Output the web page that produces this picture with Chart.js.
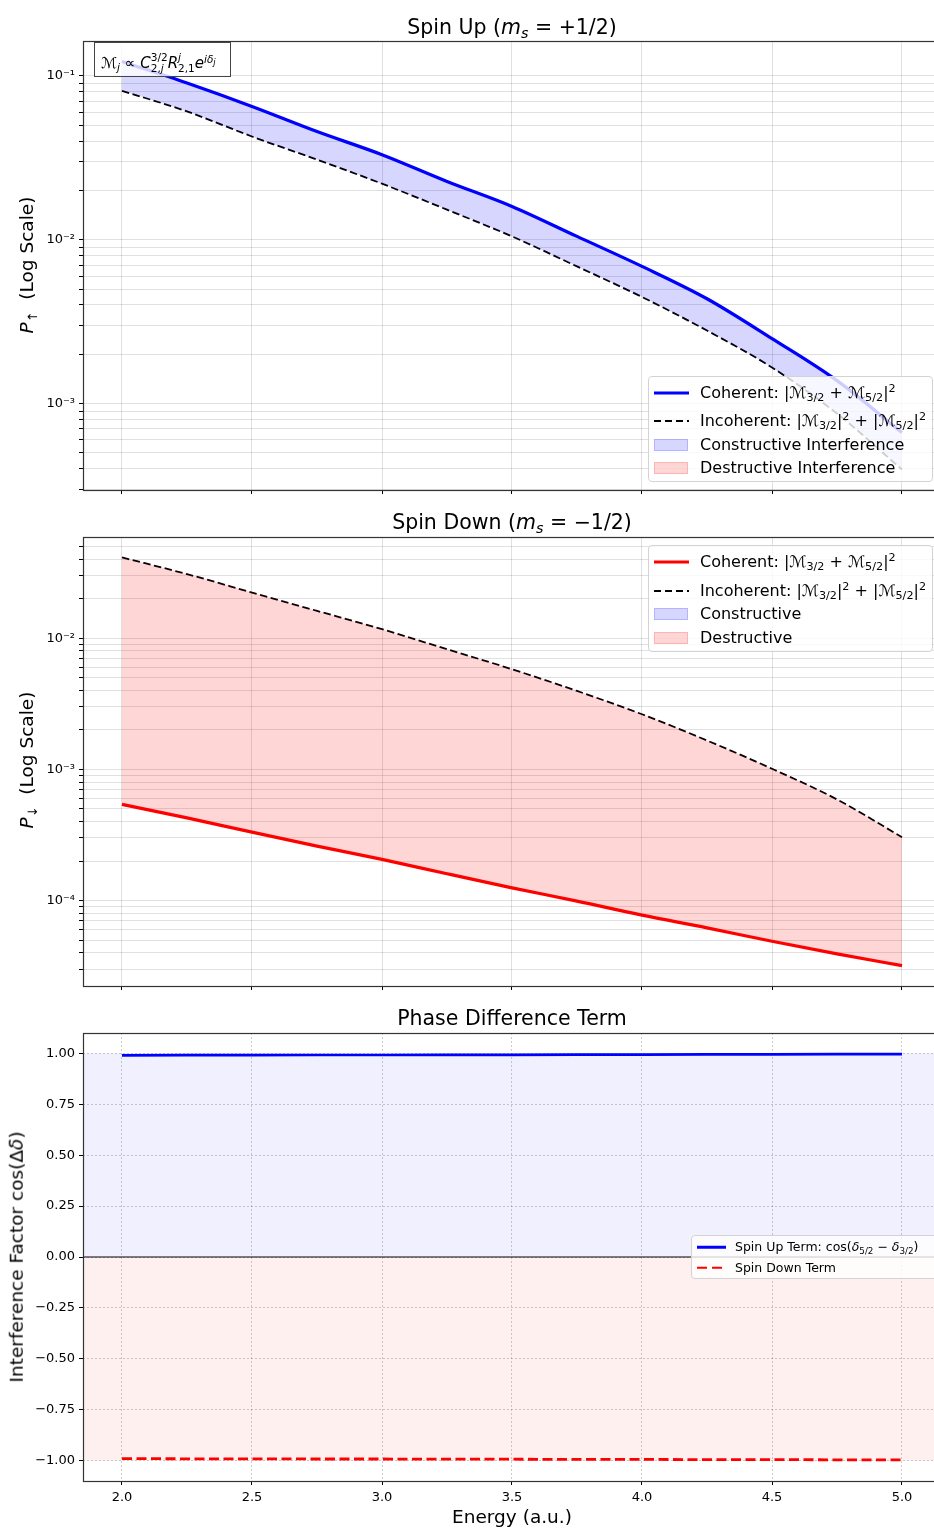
<!DOCTYPE html>
<html>
<head>
<meta charset="utf-8">
<script src="https://cdn.jsdelivr.net/npm/chart.js@4.4.1/dist/chart.umd.min.js"></script>
<style>
html, body { margin: 0; padding: 0; background: #fff; }
body { width: 934px; height: 1530px; overflow: hidden; position: relative; font-family: 'DejaVu Sans', sans-serif; color: #000; }
canvas { position: absolute; left: 0; }
.lbl { position: absolute; white-space: nowrap; transform: translate(-50%, -50%); line-height: 1; }
.rot { transform: translate(-50%, -50%) rotate(-90deg); }
sub, sup { font-size: 70%; line-height: 0; position: relative; vertical-align: baseline; }
sub { top: 0.3em; }
sup { top: -0.45em; }
.ss { display: inline-block; vertical-align: -0.42em; font-size: 70%; line-height: 1.05; }
.ss span { display: block; }
.legend { position: absolute; border: 1px solid #d3d3d3; border-radius: 4px; background: rgba(255,255,255,0.8); box-sizing: border-box; z-index: 2; }
.legend .s { position: absolute; transform: translateY(-50%); }
.legend .t { position: absolute; transform: translateY(-50%); white-space: nowrap; line-height: 1; }
.dash { height: 2px; background: repeating-linear-gradient(90deg, #000 0 7.5px, transparent 7.5px 11px); }
.box { position: absolute; background: rgba(255,255,255,0.8); border: 1px solid #444; box-sizing: border-box; font-size: 15px; line-height: 1; z-index: 2; }
</style>
</head>
<body>
<canvas id="upChart" width="960" height="505" style="top:0px"></canvas>
<canvas id="downChart" width="960" height="495" style="top:505px"></canvas>
<canvas id="phaseChart" width="960" height="530" style="top:1000px"></canvas>

<!-- titles and axis labels -->
<div class="lbl" style="left:512px;top:27px;font-size:20.5px">Spin Up (<i>m</i><sub><i>s</i></sub> = +1/2)</div>
<div class="lbl" style="left:512px;top:522px;font-size:20.5px">Spin Down (<i>m</i><sub><i>s</i></sub> = −1/2)</div>
<div class="lbl" style="left:512px;top:1018px;font-size:20.5px">Phase Difference Term</div>
<div class="lbl rot" style="left:27px;top:265px;font-size:18.5px"><i>P</i><sub>↑</sub>&nbsp; (Log Scale)</div>
<div class="lbl rot" style="left:27px;top:760px;font-size:18.5px"><i>P</i><sub>↓</sub>&nbsp; (Log Scale)</div>
<div class="lbl rot" style="left:17px;top:1257px;font-size:18.5px">Interference Factor cos(Δ<i>δ</i>)</div>
<div class="lbl" style="left:512px;top:1517px;font-size:18.5px">Energy (a.u.)</div>

<!-- formula box -->
<div class="box" style="left:94px;top:42px;width:137px;height:35px">
  <div style="position:absolute;left:6px;top:9px;white-space:nowrap"><i>ℳ</i><sub><i>j</i></sub> ∝ <i>C</i><span class="ss"><span>3/2</span><span>2,<i>j</i></span></span><i>R</i><span class="ss"><span><i>j</i></span><span>2,1</span></span><i>e</i><sup><i>iδ</i><sub style="font-size:80%"><i>j</i></sub></sup></div>
</div>

<!-- legend: spin up -->
<div class="legend" style="left:648px;top:376px;width:285px;height:106px;font-size:16px">
  <div class="s" style="left:5px;top:15.5px;width:35px;height:3px;background:#00f"></div>
  <div class="t" style="left:51px;top:15.5px">Coherent: |ℳ<sub>3/2</sub> + ℳ<sub>5/2</sub>|<sup>2</sup></div>
  <div class="s dash" style="left:5px;top:43.5px;width:35px"></div>
  <div class="t" style="left:51px;top:43.5px">Incoherent: |ℳ<sub>3/2</sub>|<sup>2</sup> + |ℳ<sub>5/2</sub>|<sup>2</sup></div>
  <div class="s" style="left:5px;top:67.5px;width:34px;height:12px;background:rgba(0,0,255,0.16);border:1px solid rgba(0,0,255,0.16);box-sizing:border-box"></div>
  <div class="t" style="left:51px;top:67.5px">Constructive Interference</div>
  <div class="s" style="left:5px;top:91px;width:34px;height:12px;background:rgba(255,0,0,0.16);border:1px solid rgba(255,0,0,0.16);box-sizing:border-box"></div>
  <div class="t" style="left:51px;top:91px">Destructive Interference</div>
</div>

<!-- legend: spin down -->
<div class="legend" style="left:648px;top:545px;width:285px;height:107px;font-size:16px">
  <div class="s" style="left:5px;top:15.5px;width:35px;height:3px;background:#f00"></div>
  <div class="t" style="left:51px;top:15.5px">Coherent: |ℳ<sub>3/2</sub> + ℳ<sub>5/2</sub>|<sup>2</sup></div>
  <div class="s dash" style="left:5px;top:44.5px;width:35px"></div>
  <div class="t" style="left:51px;top:44.5px">Incoherent: |ℳ<sub>3/2</sub>|<sup>2</sup> + |ℳ<sub>5/2</sub>|<sup>2</sup></div>
  <div class="s" style="left:5px;top:68px;width:34px;height:12px;background:rgba(0,0,255,0.16);border:1px solid rgba(0,0,255,0.16);box-sizing:border-box"></div>
  <div class="t" style="left:51px;top:68px">Constructive</div>
  <div class="s" style="left:5px;top:91.5px;width:34px;height:12px;background:rgba(255,0,0,0.16);border:1px solid rgba(255,0,0,0.16);box-sizing:border-box"></div>
  <div class="t" style="left:51px;top:91.5px">Destructive</div>
</div>

<!-- legend: phase -->
<div class="legend" style="left:691px;top:1235px;width:248px;height:44px;font-size:12.5px">
  <div class="s" style="left:5px;top:11px;width:29px;height:2.5px;background:#00f"></div>
  <div class="t" style="left:43px;top:11px">Spin Up Term: cos(<i>δ</i><sub>5/2</sub> − <i>δ</i><sub>3/2</sub>)</div>
  <div class="s" style="left:5px;top:31.5px;width:29px;height:2.5px;background:repeating-linear-gradient(90deg,#f00 0 10px,transparent 10px 15px)"></div>
  <div class="t" style="left:43px;top:31.5px">Spin Down Term</div>
</div>

<script>
// Energy grid (a.u.)
const energy = [2.0, 2.25, 2.5, 2.75, 3.0, 3.25, 3.5, 3.75, 4.0, 4.25, 4.5, 4.75, 5.0];

// Spin up probabilities
const coherentUp = [0.1223, 0.0903, 0.0650, 0.0457, 0.0330, 0.02267, 0.01596, 0.01047, 0.00687, 0.00436, 0.00249, 0.00138, 0.000665];
const incoherentUp = [0.0810, 0.0606, 0.0426, 0.0308, 0.02196, 0.01524, 0.01047, 0.00687, 0.00447, 0.00279, 0.00166, 0.000869, 0.000396];

// Spin down probabilities
const coherentDown = [5.41e-4, 4.27e-4, 3.32e-4, 2.60e-4, 2.06e-4, 1.60e-4, 1.25e-4, 9.89e-5, 7.73e-5, 6.19e-5, 4.89e-5, 3.92e-5, 3.19e-5];
const incoherentDown = [0.0413, 0.0308, 0.0223, 0.01615, 0.01172, 0.00824, 0.00580, 0.00396, 0.00263, 0.00166, 0.00101, 0.00059, 0.000304];

// Phase difference terms
const spinUpTerm = [0.990, 0.991, 0.991, 0.992, 0.992, 0.993, 0.993, 0.994, 0.994, 0.995, 0.995, 0.996, 0.996];
const spinDownTerm = [-0.990, -0.991, -0.991, -0.992, -0.992, -0.993, -0.993, -0.994, -0.994, -0.995, -0.995, -0.996, -0.996];
const spanLevels = [1, -1];

// Axes
const energyRange = [1.85, 5.15];
const xTicks = [2.0, 2.5, 3.0, 3.5, 4.0, 4.5, 5.0];
const upRange = [2.97e-4, 0.163];
const downRange = [2.23e-5, 0.0591];
const phaseRange = [-1.1, 1.1];
const phaseTicks = [-1.0, -0.75, -0.5, -0.25, 0.0, 0.25, 0.5, 0.75, 1.0];
const minorSteps = [1, 2, 3, 4, 5, 6, 7, 8, 9];

Chart.defaults.font.family = "'DejaVu Sans', sans-serif";
Chart.defaults.color = '#000';
Chart.defaults.animation = false;
Chart.defaults.events = [];
Chart.defaults.plugins.legend.display = false;
Chart.defaults.plugins.tooltip.enabled = false;

const gridColor = 'rgba(0,0,0,0.12)';
const tickFont = { size: 13 };
const supDigits = { '-': '⁻', '0': '⁰', '1': '¹', '2': '²', '3': '³', '4': '⁴', '5': '⁵', '6': '⁶', '7': '⁷', '8': '⁸', '9': '⁹' };

function isDecade(v) {
    const l = Math.log10(v);
    return Math.abs(l - Math.round(l)) < 1e-6;
}

function decadeLabel(v) {
    if (!isDecade(v)) return '';
    const exp = String(Math.round(Math.log10(v)));
    return '10' + exp.split('').map(c => supDigits[c]).join('');
}

function logTickList(range) {
    const ticks = [];
    const lo = Math.floor(Math.log10(range[0]));
    const hi = Math.floor(Math.log10(range[1]));
    for (let e = lo; e <= hi; e++) {
        minorSteps.forEach(m => {
            const v = m * Math.pow(10, e);
            if (v >= range[0] && v <= range[1]) ticks.push({ value: v, major: m === 1 });
        });
    }
    return ticks;
}

// Draws the full axes frame like matplotlib spines
const framePlugin = {
    id: 'frame',
    afterDraw(chart) {
        const { ctx, chartArea: a } = chart;
        ctx.save();
        ctx.strokeStyle = '#333';
        ctx.lineWidth = 1.2;
        ctx.strokeRect(Math.round(a.left) + 0.5, Math.round(a.top) + 0.5,
            Math.round(a.right - a.left), Math.round(a.bottom - a.top));
        ctx.restore();
    }
};

function xAxis(height, showLabels, dotted) {
    return {
        type: 'linear',
        min: energyRange[0],
        max: energyRange[1],
        afterBuildTicks: ax => { ax.ticks = xTicks.map(v => ({ value: v })); },
        afterFit: ax => { ax.height = height; },
        border: { display: false, dash: dotted ? [2, 2] : [] },
        grid: {
            color: dotted ? 'rgba(0,0,0,0.2)' : gridColor,
            tickColor: '#000',
            tickLength: 4,
            tickBorderDash: []
        },
        ticks: {
            display: showLabels,
            autoSkip: false,
            maxRotation: 0,
            padding: 5,
            font: tickFont,
            callback: v => v.toFixed(1)
        }
    };
}

function logAxis(range) {
    return {
        type: 'logarithmic',
        min: range[0],
        max: range[1],
        afterBuildTicks: ax => { ax.ticks = logTickList(range); },
        afterFit: ax => { ax.width = 83; },
        border: { display: false },
        grid: { color: gridColor, tickColor: '#000', tickLength: 4 },
        ticks: {
            autoSkip: false,
            padding: 4,
            font: tickFont,
            callback: v => decadeLabel(v)
        }
    };
}

function points(values) {
    return energy.map((e, i) => ({ x: e, y: values[i] }));
}

function probabilityChart(id, coherent, incoherent, color, range, padTop, xHeight) {
    return new Chart(document.getElementById(id), {
        type: 'line',
        data: {
            datasets: [
                {
                    label: 'Coherent',
                    data: points(coherent),
                    borderColor: color,
                    borderWidth: 3.2,
                    pointRadius: 0,
                    cubicInterpolationMode: 'monotone',
                    fill: { target: 1, above: 'rgba(0,0,255,0.16)', below: 'rgba(255,0,0,0.16)' }
                },
                {
                    label: 'Incoherent',
                    data: points(incoherent),
                    borderColor: '#000',
                    borderWidth: 1.8,
                    borderDash: [7.5, 3.5],
                    pointRadius: 0,
                    cubicInterpolationMode: 'monotone',
                    fill: false
                }
            ]
        },
        options: {
            responsive: false,
            layout: { padding: { top: padTop, right: 19, bottom: 0, left: 0 } },
            scales: {
                x: xAxis(xHeight, false, false),
                y: logAxis(range)
            }
        },
        plugins: [framePlugin]
    });
}

probabilityChart('upChart', coherentUp, incoherentUp, '#0000ff', upRange, 41, 15);
probabilityChart('downChart', coherentDown, incoherentDown, '#ff0000', downRange, 32, 14);

// Phase difference panel
new Chart(document.getElementById('phaseChart'), {
    type: 'line',
    data: {
        datasets: [
            {
                label: 'Constructive region',
                data: energyRange.map(x => ({ x, y: spanLevels[0] })),
                borderWidth: 0,
                pointRadius: 0,
                backgroundColor: 'rgba(0,0,255,0.06)',
                fill: 'origin'
            },
            {
                label: 'Destructive region',
                data: energyRange.map(x => ({ x, y: spanLevels[1] })),
                borderWidth: 0,
                pointRadius: 0,
                backgroundColor: 'rgba(255,0,0,0.06)',
                fill: 'origin'
            },
            {
                label: 'Zero',
                data: energyRange.map(x => ({ x, y: 0 })),
                borderColor: '#000',
                borderWidth: 1.2,
                pointRadius: 0,
                fill: false
            },
            {
                label: 'Spin Up Term',
                data: points(spinUpTerm),
                borderColor: '#0000ff',
                borderWidth: 2.7,
                pointRadius: 0,
                fill: false
            },
            {
                label: 'Spin Down Term',
                data: points(spinDownTerm),
                borderColor: '#ff0000',
                borderWidth: 2.8,
                borderDash: [10, 4.5],
                pointRadius: 0,
                fill: false
            }
        ]
    },
    options: {
        responsive: false,
        layout: { padding: { top: 33, right: 19, bottom: 0, left: 0 } },
        scales: {
            x: xAxis(49, true, true),
            y: {
                type: 'linear',
                min: phaseRange[0],
                max: phaseRange[1],
                afterBuildTicks: ax => { ax.ticks = phaseTicks.map(v => ({ value: v })); },
                afterFit: ax => { ax.width = 83; },
                border: { display: false, dash: [2, 2] },
                grid: { color: 'rgba(0,0,0,0.2)', tickColor: '#000', tickLength: 4, tickBorderDash: [] },
                ticks: {
                    autoSkip: false,
                    padding: 4,
                    font: tickFont,
                    callback: v => v.toFixed(2).replace('-', '−')
                }
            }
        }
    },
    plugins: [framePlugin]
});
</script>
</body>
</html>
